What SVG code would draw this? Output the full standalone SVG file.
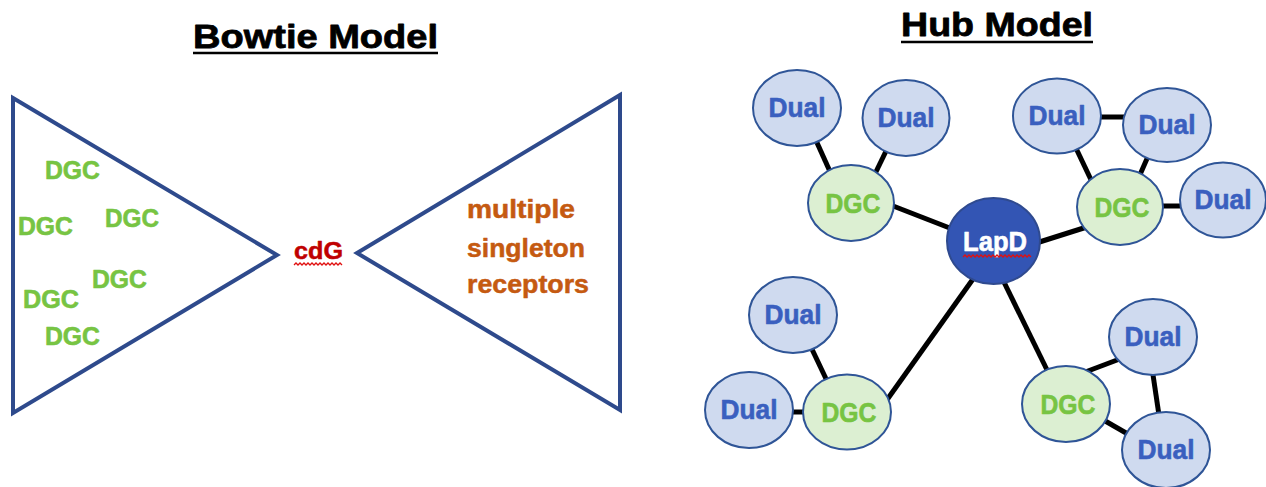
<svg xmlns="http://www.w3.org/2000/svg" width="1266" height="487" viewBox="0 0 1266 487">
  <style>
    text { font-family: "Liberation Sans", Arial, sans-serif; font-weight: bold; stroke-linejoin: round; }
    .title { font-size: 34px; fill: #000; stroke: #000; stroke-width: 0.8; }
    .uline { stroke: #000; stroke-width: 2.5; }
    .tri { fill: none; stroke: #2e4a8c; stroke-width: 4; stroke-linejoin: miter; }
    .dgc-t { font-size: 25px; fill: #77c443; stroke: #77c443; stroke-width: 0.6; }
    .recv { font-size: 25px; fill: #c55a11; stroke: #c55a11; stroke-width: 0.5; }
    .cdg { font-size: 24px; fill: #c00000; stroke: #c00000; stroke-width: 0.5; }
    .wave { fill: none; stroke: #e01010; stroke-width: 1.3; }
    .edge { stroke: #000; stroke-width: 5; stroke-linecap: butt; }
    .dual { fill: #cfdaef; stroke: #2f5597; stroke-width: 2; }
    .dgc { fill: #dcefd2; stroke: #2f5597; stroke-width: 2; }
    .hub { fill: #3355b4; stroke: #2f4a8f; stroke-width: 2; }
    .dual-t { font-size: 28px; fill: #3a5fbf; stroke: #3a5fbf; stroke-width: 0.6; text-anchor: middle; }
    .dgcn-t { font-size: 28px; fill: #77c443; stroke: #77c443; stroke-width: 0.6; text-anchor: middle; }
    .hub-t { font-size: 28px; fill: #fff; stroke: #fff; stroke-width: 0.6; text-anchor: middle; }
  </style>

  <rect width="1266" height="487" fill="#fff"/>

  <!-- Titles -->
  <g id="title-bowtie">
    <text class="title" x="193" y="48" textLength="245" lengthAdjust="spacingAndGlyphs">Bowtie Model</text>
    <line class="uline" x1="193" y1="53" x2="438" y2="53"/>
  </g>
  <g id="title-hub">
    <text class="title" x="901" y="36" textLength="192" lengthAdjust="spacingAndGlyphs">Hub Model</text>
    <line class="uline" x1="901" y1="42" x2="1093" y2="42"/>
  </g>

  <!-- Bowtie: input funnel of DGCs -->
  <g id="bowtie-left">
    <polygon class="tri" points="13,98 277,255 13,413"/>
    <text class="dgc-t" x="45" y="179" textLength="55" lengthAdjust="spacingAndGlyphs">DGC</text>
    <text class="dgc-t" x="18" y="235" textLength="55" lengthAdjust="spacingAndGlyphs">DGC</text>
    <text class="dgc-t" x="105" y="227" textLength="54" lengthAdjust="spacingAndGlyphs">DGC</text>
    <text class="dgc-t" x="92" y="288" textLength="55" lengthAdjust="spacingAndGlyphs">DGC</text>
    <text class="dgc-t" x="23" y="308" textLength="56" lengthAdjust="spacingAndGlyphs">DGC</text>
    <text class="dgc-t" x="45" y="345" textLength="55" lengthAdjust="spacingAndGlyphs">DGC</text>
  </g>

  <!-- Bowtie: cdG knot -->
  <g id="bowtie-cdg">
    <text class="cdg" x="294" y="259" textLength="49" lengthAdjust="spacingAndGlyphs">cdG</text>
    <path class="wave" d="M294,265 l2,-2 l2,2 l2,-2 l2,2 l2,-2 l2,2 l2,-2 l2,2 l2,-2 l2,2 l2,-2 l2,2 l2,-2 l2,2 l2,-2 l2,2 l2,-2 l2,2 l2,-2 l2,2 l2,-2 l2,2 l2,-2 l2,2"/>
  </g>

  <!-- Bowtie: output funnel of receptors -->
  <g id="bowtie-right">
    <polygon class="tri" points="620,95 357,253 620,410"/>
    <text class="recv" x="467" y="218" textLength="108" lengthAdjust="spacingAndGlyphs">multiple</text>
    <text class="recv" x="467" y="257" textLength="118" lengthAdjust="spacingAndGlyphs">singleton</text>
    <text class="recv" x="467" y="293" textLength="122" lengthAdjust="spacingAndGlyphs">receptors</text>
  </g>

  <!-- Hub network connectors -->
  <g id="connectors">
    <line class="edge" x1="814" y1="136" x2="832" y2="176"/>
    <line class="edge" x1="888" y1="147" x2="873" y2="178"/>
    <line class="edge" x1="888" y1="204" x2="960" y2="232"/>
    <line class="edge" x1="1030" y1="245" x2="1090" y2="226"/>
    <line class="edge" x1="1095" y1="117" x2="1130" y2="117"/>
    <line class="edge" x1="1074" y1="144" x2="1093" y2="184"/>
    <line class="edge" x1="1149" y1="154" x2="1139" y2="177"/>
    <line class="edge" x1="1155" y1="206" x2="1190" y2="206"/>
    <line class="edge" x1="1000" y1="274" x2="1050" y2="376"/>
    <line class="edge" x1="1080" y1="374" x2="1125" y2="357"/>
    <line class="edge" x1="1152" y1="368" x2="1160" y2="422"/>
    <line class="edge" x1="1100" y1="418" x2="1133" y2="437"/>
    <line class="edge" x1="978" y1="272" x2="884" y2="404"/>
    <line class="edge" x1="810" y1="345" x2="828" y2="383"/>
    <line class="edge" x1="788" y1="412" x2="810" y2="412"/>
  </g>

  <!-- Central hub -->
  <g id="lapd">
    <ellipse class="hub" cx="993.5" cy="241" rx="46.5" ry="43"/>
    <text class="hub-t" x="995" y="251" textLength="64" lengthAdjust="spacingAndGlyphs">LapD</text>
    <path class="wave" d="M963,257 l2,-2 l2,2 l2,-2 l2,2 l2,-2 l2,2 l2,-2 l2,2 l2,-2 l2,2 l2,-2 l2,2 l2,-2 l2,2 l2,-2 l2,2 l2,-2 l2,2 l2,-2 l2,2 l2,-2 l2,2 l2,-2 l2,2 l2,-2 l2,2 l2,-2 l2,2 l2,-2 l2,2 l2,-2 l2,2 l2,-2 l2,2"/>
  </g>

  <!-- Upper-left cluster -->
  <g id="dgc-ul">
    <ellipse class="dgc" cx="851" cy="203" rx="43" ry="38"/>
    <text class="dgcn-t" x="853" y="213" textLength="55" lengthAdjust="spacingAndGlyphs">DGC</text>
  </g>
  <g id="dual-ul-a">
    <ellipse class="dual" cx="797" cy="108" rx="44" ry="38"/>
    <text class="dual-t" x="797" y="117" textLength="57" lengthAdjust="spacingAndGlyphs">Dual</text>
  </g>
  <g id="dual-ul-b">
    <ellipse class="dual" cx="906" cy="118" rx="43.5" ry="38"/>
    <text class="dual-t" x="906" y="127" textLength="57" lengthAdjust="spacingAndGlyphs">Dual</text>
  </g>

  <!-- Upper-right cluster -->
  <g id="dgc-ur">
    <ellipse class="dgc" cx="1120" cy="207" rx="43" ry="38"/>
    <text class="dgcn-t" x="1122" y="217" textLength="55" lengthAdjust="spacingAndGlyphs">DGC</text>
  </g>
  <g id="dual-ur-a">
    <ellipse class="dual" cx="1057" cy="116" rx="44" ry="37.5"/>
    <text class="dual-t" x="1057" y="125" textLength="57" lengthAdjust="spacingAndGlyphs">Dual</text>
  </g>
  <g id="dual-ur-b">
    <ellipse class="dual" cx="1167" cy="125" rx="44" ry="37"/>
    <text class="dual-t" x="1167" y="134" textLength="57" lengthAdjust="spacingAndGlyphs">Dual</text>
  </g>
  <g id="dual-ur-c">
    <ellipse class="dual" cx="1223" cy="200" rx="43" ry="37.5"/>
    <text class="dual-t" x="1223" y="209" textLength="57" lengthAdjust="spacingAndGlyphs">Dual</text>
  </g>

  <!-- Lower-right cluster -->
  <g id="dgc-lr">
    <ellipse class="dgc" cx="1066" cy="404" rx="44" ry="38"/>
    <text class="dgcn-t" x="1068" y="414" textLength="55" lengthAdjust="spacingAndGlyphs">DGC</text>
  </g>
  <g id="dual-lr-a">
    <ellipse class="dual" cx="1153" cy="337" rx="44" ry="38"/>
    <text class="dual-t" x="1153" y="346" textLength="57" lengthAdjust="spacingAndGlyphs">Dual</text>
  </g>
  <g id="dual-lr-b">
    <ellipse class="dual" cx="1166" cy="450" rx="44" ry="38"/>
    <text class="dual-t" x="1166" y="459" textLength="57" lengthAdjust="spacingAndGlyphs">Dual</text>
  </g>

  <!-- Lower-left cluster -->
  <g id="dgc-ll">
    <ellipse class="dgc" cx="847" cy="412" rx="44" ry="37.5"/>
    <text class="dgcn-t" x="849" y="422" textLength="55" lengthAdjust="spacingAndGlyphs">DGC</text>
  </g>
  <g id="dual-ll-a">
    <ellipse class="dual" cx="793" cy="315" rx="44" ry="38"/>
    <text class="dual-t" x="793" y="324" textLength="57" lengthAdjust="spacingAndGlyphs">Dual</text>
  </g>
  <g id="dual-ll-b">
    <ellipse class="dual" cx="749" cy="410" rx="44" ry="38"/>
    <text class="dual-t" x="749" y="419" textLength="57" lengthAdjust="spacingAndGlyphs">Dual</text>
  </g>
</svg>
